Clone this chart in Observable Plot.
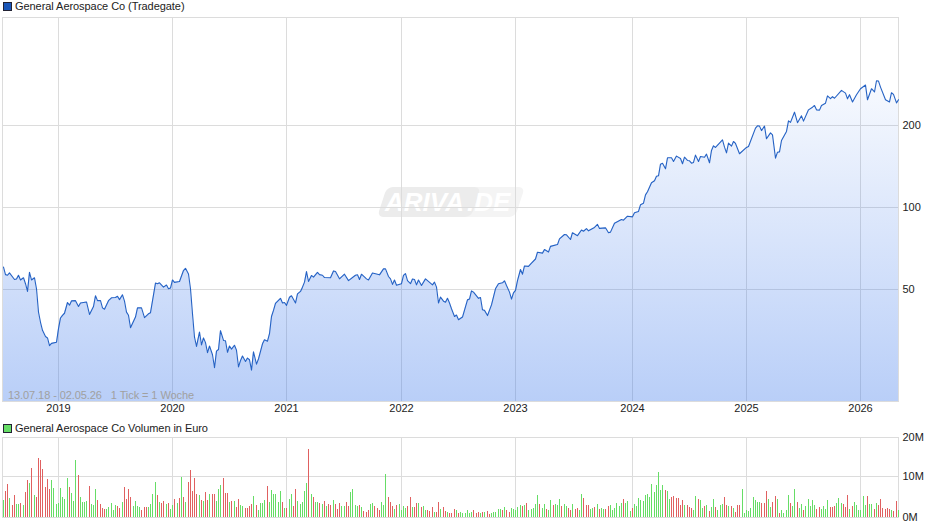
<!DOCTYPE html>
<html><head><meta charset="utf-8">
<script src="https://cdn.jsdelivr.net/npm/d3@7"></script>
<script src="https://cdn.jsdelivr.net/npm/@observablehq/plot@0.6"></script>
<style>
html,body{margin:0;padding:0;background:#fff;width:940px;height:526px;overflow:hidden}
#page{position:relative;width:940px;height:526px;font:11px "Liberation Sans",Arial,sans-serif;color:#222}
#page svg{position:absolute;left:0;z-index:1;background:transparent}
.lab{position:absolute;left:15px;white-space:pre;line-height:12px;z-index:2;letter-spacing:-.06px}
.sq{position:absolute;left:3px;width:6.5px;height:6.5px;border:1px solid #223;z-index:2}
#note{position:absolute;left:8px;top:389px;color:#a0a0a0;white-space:pre;line-height:12px;z-index:2;letter-spacing:-.08px}
#wm{position:absolute;left:377px;top:187px;width:148px;height:30px;z-index:0;font-style:italic;font-weight:bold;font-size:26px;line-height:31px;color:#fff;white-space:pre}
#wm i{position:absolute;top:0;bottom:0;transform:skewX(-18deg);border-radius:6px}
#wm span{position:absolute;top:0}
</style></head><body>
<div id="page">
  <div id="wm"><i style="left:5px;width:94px;background:#ececec"></i><i style="left:90px;width:53px;background:#f4f4f4;z-index:-1"></i><span style="left:8px">ARIVA</span><span style="left:90px">.DE</span></div>
  <div class="sq" style="top:2px;background:#1a56b8"></div><div class="lab" style="top:0">General Aerospace Co (Tradegate)</div>
  <div class="sq" style="top:424px;background:#66dd66"></div><div class="lab" style="top:422px">General Aerospace Co Volumen in Euro</div>
  <div id="note">13.07.18 - 02.05.26   1 Tick = 1 Woche</div>
</div>
<script>
const startDate = Date.UTC(2018, 6, 13);
const weekDate = w => new Date(startDate + w * 7 * 864e5);

const priceWeeks = [
0,1,2,3,5,6,7,8,9,10,11,12,13,14,15,16,17,18,19,20,21,22,24,25,26,27,28,29,30,31,33,34,35,38,39,41,42,43,44,45,46,48,49,51,52,53,54,55,56,57,58,60,61,63,64,66,67,69,70,71,73,74,75,76,77,78,80,82,83,84,85,86,87,88,89,90,91,92,93,94,95,96,97,98,99,100,101,102,103,104,105,106,107,108,109,110,111,112,113,114,115,116,118,119,120,121,122,123,124,126,127,128,129,130,131,133,134,
135,136,137,138,139,140,141,143,144,145,146,149,150,151,153,155,157,160,161,162,163,165,166,168,171,173,174,175,176,177,178,179,181,182,183,184,185,186,187,188,189,190,192,195,196,197,198,199,200,201,202,203,204,205,206,207,209,211,212,213,214,216,217,218,219,220,222,224,225,227,228,229,230,231,232,233,234,235,236,237,239,240,242,243,245,246,248,249,252,253,255,256,258,259,261,263,264,265,266,269,270,271,274,275,276,278,
281,282,284,286,287,289,290,291,292,293,295,296,297,298,299,300,301,302,304,305,306,308,309,310,311,312,313,314,315,316,317,319,320,321,322,323,324,327,328,329,330,331,332,333,335,338,339,342,343,344,345,346,347,349,350,351,352,353,354,356,357,358,360,361,363,364,366,368,369,370,371,372,374,375,376,377,378,381,383,384,385,386,388,390,392,393,395,396,397,398,399,401,403,404,405,406,407];
const priceValues = [
60.4,56.7,56.4,57.5,54.4,54.6,56.4,54.2,55.2,52.5,49.2,57.8,54.2,55.2,50.3,41.3,37.9,35.4,33.6,33.2,31.1,31.7,32.0,35.9,39.3,40.2,40.9,44.8,43.8,45.4,45.5,43.3,44.6,45.0,40.5,43.3,47.4,45.5,45.5,42.8,42.3,45.5,46.6,46.7,47.2,45.9,47.8,45.3,41.3,40.2,36.2,39.6,42.8,42.8,39.4,40.7,41.1,52.8,52.5,52.9,51,51.9,50.3,50.6,54.2,53.1,53.5,58.7,59.8,57,50.3,40.7,33.4,30.9,34.9,31.3,33.2,31.9,29.3,31,28.8,25.8,29.7,30.1,35.3,32.5,32.4,29.4,31,30.2,31.2,29.9,26,27.4,28.5,27.2,28,27.6,25.3,29.5,26.6,27.8,31.6,32.7,32.3,34.4,39.8,41.9,44.5,46.4,44.6,44.8,43.7,46.8,47.4,44.6,48.2,
49.2,51.0,53.2,58.2,53.5,56.3,55.5,57.8,56.7,56.4,55.3,55.2,58.5,58.2,54.7,56.9,53.9,56.4,56.6,54.4,56.9,54.7,54.2,57.5,56.6,59.5,59.5,55.8,54.7,52.2,54.2,51.8,52.5,56.3,57.2,53.9,52.5,54.6,54.4,52.0,54.2,51.7,54.7,52.0,53.2,51.0,44.6,46.9,45.3,44.9,46.4,44.6,42.5,39.8,40.3,38.7,39.6,45.8,46.1,49.4,48.9,46.4,46.7,42.1,41.9,40.1,43.9,50.3,52.5,52.9,53.8,51.7,48.9,46.1,48.6,49.6,53.9,59.2,56.9,61.0,60.8,62.5,64.7,68.5,68.0,70.1,68.6,72.0,73.1,76.7,79.6,79.4,76.3,80.8,78.8,82.7,81.8,83.6,82.1,84.5,86.7,83.8,84.2,80.8,81.2,87.5,
90.4,89.8,92.9,92.4,95.6,96.7,102.3,103.7,111.3,114.2,123.2,125.3,130.3,130.7,144.2,145.4,138.7,152.2,152.2,147.5,154.4,151.3,144.7,153,148.8,148.4,145.4,146.3,155.7,147.5,153.9,153,157,145.9,162,168.4,166.1,177.2,166.5,158.7,172.3,168,174.7,171.8,157.5,166.1,167.5,195.6,199.5,198.9,191.6,198.9,178.7,187.9,184.8,151.7,159.6,160,176.2,190.2,208,205.3,223.8,204.8,217,207.5,228.3,233.5,236.8,228.3,227.7,236.8,241.5,256.8,251.1,255.3,251.8,269.1,263,250.6,259.5,244.1,259.5,272.9,281.5,248.5,272.9,265.5,292,291.2,276.7,248.5,244.1,263.8,260.1,242.1,248.5];

const volumes = [
4.2,6.4,8.1,4.7,3.0,5.4,3.2,3.2,3.4,3.0,6.1,9.1,8.4,12.0,5.4,4.9,14.5,14.0,11.8,7.4,
9.3,6.9,9.1,7.1,3.2,3.4,7.1,4.9,4.4,9.6,7.4,5.9,3.9,14.0,10.3,4.9,3.7,3.7,3.9,7.6,
3.2,3.0,6.9,4.2,3.2,2.2,2.0,2.0,2.5,3.4,1.7,3.0,2.7,2.2,3.7,7.4,4.4,6.9,4.9,2.7,
3.9,2.7,2.5,1.7,2.5,2.5,2.5,3.2,5.7,8.6,5.4,3.7,3.4,3.9,3.2,3.4,2.0,3.0,4.4,3.4,
4.7,9.8,4.9,3.7,8.6,11.6,6.4,9.6,5.7,5.4,4.2,3.9,6.1,4.2,5.7,5.7,5.7,3.9,6.9,7.9,
9.6,5.9,5.9,3.7,3.9,3.9,2.5,4.4,3.0,2.7,2.2,2.2,2.7,3.2,5.2,3.0,1.7,3.4,3.4,4.2,
7.6,3.7,6.6,5.7,5.7,3.7,6.4,3.7,2.2,2.2,4.4,5.7,2.7,6.9,3.9,3.2,3.7,6.4,8.4,16.7,
5.7,4.9,3.7,3.7,3.4,
3.2,3.9,2.7,3.2,3.0,4.2,3.2,2.0,3.4,2.7,2.7,3.7,2.7,6.1,6.9,3.0,2.7,3.0,2.5,1.5,
1.2,1.7,3.2,3.4,2.7,2.2,1.7,3.7,3.0,10.6,4.9,3.7,2.7,2.0,3.0,3.2,1.7,2.7,2.2,2.7,
4.9,2.5,2.5,3.4,3.4,2.5,2.7,1.7,1.7,1.5,2.5,1.2,1.2,3.7,2.0,2.5,1.5,1.2,1.0,1.0,
2.0,1.7,1.0,1.2,1.0,1.0,1.7,1.0,1.2,1.7,1.0,1.2,1.0,1.2,1.2,1.5,0.7,1.0,1.2,1.2,
2.0,2.0,1.7,2.5,1.7,1.2,2.2,2.0,1.7,2.5,3.0,2.7,3.0,3.4,1.7,2.0,2.2,3.2,5.4,3.2,
2.2,3.2,2.0,1.7,4.2,3.0,3.2,3.0,4.4,2.7,3.2,2.7,2.2,1.7,3.2,2.0,2.2,1.7,5.7,4.7,
3.0,3.0,2.0,2.2,2.5,3.2,2.0,2.2,2.0,2.0,2.7,3.0,1.7,2.2,3.4,2.7,3.4,4.4,3.4,3.9,1.5,
2.2,3.2,2.7,4.7,4.2,3.9,5.4,5.7,4.9,8.1,6.1,7.9,11.1,6.6,7.9,6.6,6.4,4.4,4.9,5.2,
4.7,4.7,3.0,4.2,3.0,3.0,2.5,2.2,1.7,5.2,4.4,4.2,2.2,2.7,3.0,1.5,2.5,4.4,2.5,1.7,
3.0,3.2,4.9,3.0,2.7,2.7,2.2,1.2,3.0,3.0,6.9,1.0,1.7,1.5,2.2,4.9,4.2,3.7,3.7,3.4,
3.4,6.4,4.4,2.5,3.7,5.2,4.4,1.0,1.7,1.0,1.7,5.4,3.4,2.7,6.9,3.7,2.2,3.2,1.7,2.7,
4.4,2.7,4.2,3.0,2.0,2.5,2.0,2.7,2.0,4.2,2.5,2.5,2.7,3.4,4.7,3.4,3.2,2.5,5.4,2.0,
2.7,3.7,3.0,1.7,1.7,5.2,3.0,5.2,3.2,3.2,2.0,3.4,3.0,4.4,2.2,2.0,2.2,2.0,1.7,1.5,
3.9,1.7];
const volumeMoves = (
"GRRGRRGGRG"+"RRGRGRRRRR"+"RRGGGGGGGG"+"RGGGRGGGGR"+"GGGRRRRGGG"+"GGRRGRRRRG"+"GGGRRRGGGG"+
"RGRRGRGGRG"+"RGRGRRRRRG"+"RGRRGRRGGG"+"RRRGRGRRGG"+"RRRRGRGGGG"+"RGGGGGGRGR"+"GGRRGGGGGR"+"GRGGR"+
"GRGRRGRRRG"+"GRRGGGGRGR"+"RRGGRRRGGG"+"RRRGRGGGGR"+"RGRRGRGGRR"+"RGRRGRRGRR"+"RGRGGGGGGR"+
"RRGRGRRGGG"+"GGRGRRGGGG"+"GRGRGGGGGR"+"GGRGGRGGGR"+"GGRRGRRGGR"+"RRGGRGRGGR"+"RGGGGGGRGG"+"G"+
"RGGGGGGGGG"+"GGGGGRGGRR"+"RRRRGRRRGG"+"RGGRGRGGRG"+"GGRRGRGRRR"+"GGGGGGGGGR"+"RRGGRRGRGG"+
"GGRGGRGGRG"+"GGGGRRGGGG"+"RRRGGGRRRG"+"RGGGGGGRGG"+"RGRRRRRRGR"+"RG").split("");

const yearTicks = [25,77,129,181,233,286,338,390].map(weekDate);
const yearLabels = ["2019","2020","2021","2022","2023","2024","2025","2026"];
const priceTicks = [50,100,200];
const volumeTicks = [0,10,19.6];
const volumeLabels = ["0M","10M","20M"];

const prices = priceWeeks.map((w,i)=>({date:weekDate(w),price:priceValues[i]}));
const bars = volumes.map((v,i)=>({date:weekDate(i),v,move:volumeMoves[i]}));
const xDomain = [weekDate(-0.36), weekDate(407.1)];
const GRID = "#dcdcdc";
const fontStyle = {fontFamily:'"Liberation Sans",Arial,sans-serif',fontSize:"11px",color:"#222",background:"transparent",overflow:"visible"};
const yLow = 19.398;

const gradient = () => {
  const defs = d3.create("svg:defs");
  const g = defs.append("linearGradient").attr("id","fillGrad").attr("gradientUnits","userSpaceOnUse")
    .attr("x1",0).attr("x2",0).attr("y1",60).attr("y2",401);
  g.append("stop").attr("offset","0%").attr("stop-color","#3c78eb").attr("stop-opacity",0.02);
  g.append("stop").attr("offset","100%").attr("stop-color","#3c78eb").attr("stop-opacity",0.36);
  return defs.node();
};

const main = Plot.plot({
  width:940,height:415,marginTop:17,marginBottom:14,marginLeft:2,marginRight:42,style:fontStyle,
  x:{type:"time",domain:xDomain,round:true},
  y:{type:"log",domain:[yLow,498.3]},
  marks:[
    gradient,
    Plot.frame({stroke:GRID}),
    Plot.ruleX(yearTicks,{stroke:GRID}),
    Plot.ruleY(priceTicks,{stroke:GRID}),
    Plot.areaY(prices,{x:"date",y1:yLow,y2:"price",fill:"url(#fillGrad)"}),
    Plot.line(prices,{x:"date",y:"price",stroke:"#2562c4",strokeWidth:1.1}),
    Plot.axisX({ticks:yearTicks,tickSize:0,tickPadding:3,label:null,tickFormat:(d,i)=>yearLabels[i]}),
    Plot.axisY({anchor:"right",ticks:priceTicks,tickSize:0,tickPadding:4,label:null,tickFormat:d=>String(d)})
  ]
});
main.style.top="0px";

const vol = Plot.plot({
  width:940,height:101,marginTop:12,marginBottom:9,marginLeft:2,marginRight:42,style:fontStyle,
  x:{type:"time",domain:xDomain,round:true,axis:null},
  y:{domain:[0,19.6],round:true},
  color:{domain:["G","R"],range:["#66dd66","#e06060"]},
  marks:[
    Plot.frame({stroke:GRID}),
    Plot.ruleX(yearTicks,{stroke:GRID}),
    Plot.ruleY([10],{stroke:GRID}),
    Plot.ruleX(bars,{x:"date",y1:0,y2:"v",stroke:"move",strokeWidth:1}),
    Plot.axisY({anchor:"right",ticks:volumeTicks,tickSize:0,tickPadding:4,label:null,tickFormat:(d,i)=>volumeLabels[i]})
  ]
});
vol.style.top="425px";
const page=document.getElementById("page");
page.appendChild(main);
page.appendChild(vol);
</script>
</body></html>
